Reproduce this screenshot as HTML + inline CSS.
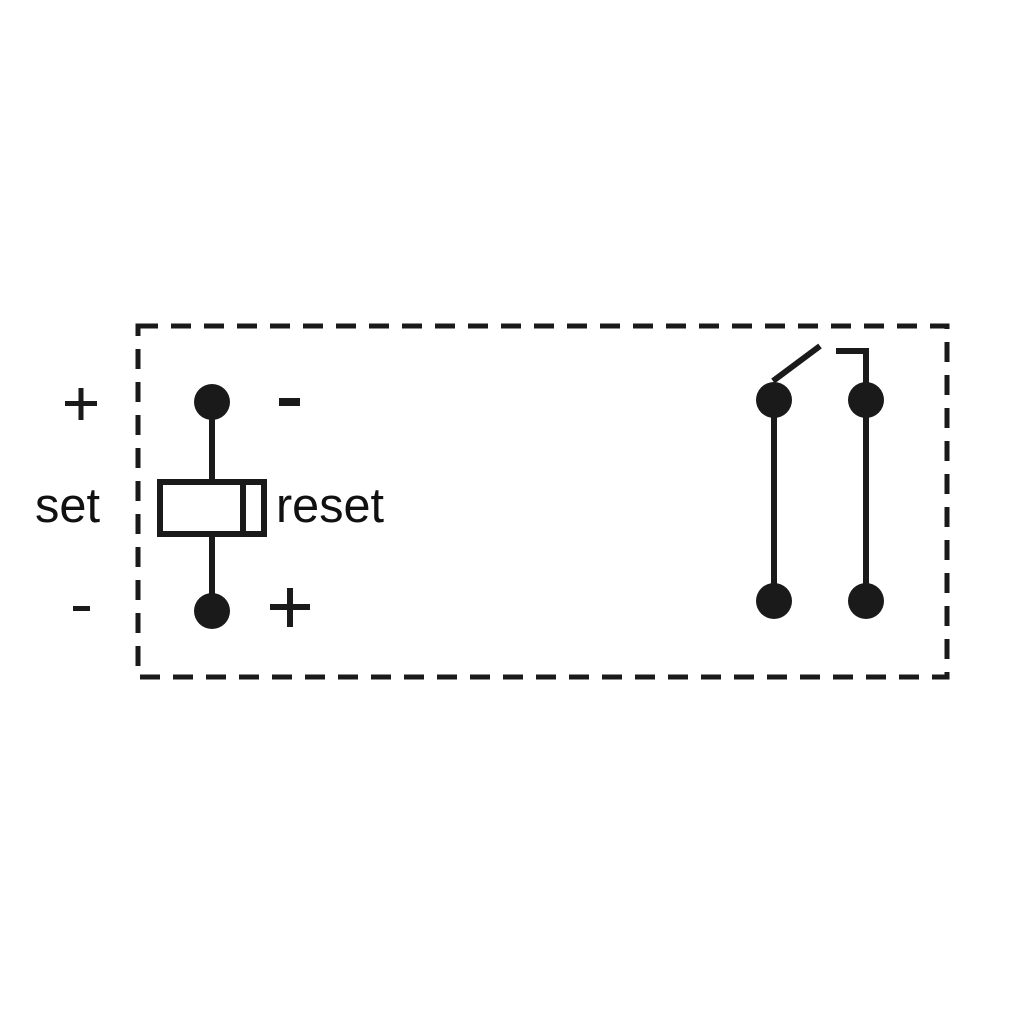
<!DOCTYPE html>
<html><head><meta charset="utf-8"><style>html,body{margin:0;padding:0;background:#fff}</style></head>
<body>
<svg width="1024" height="1024" viewBox="0 0 1024 1024" xmlns="http://www.w3.org/2000/svg">
<rect x="0" y="0" width="1024" height="1024" fill="#fff"/>
<rect x="138" y="326" width="809" height="351" fill="none" stroke="#1a1a1a" stroke-width="5" stroke-dasharray="20 13"/>
<g stroke="#1a1a1a" stroke-width="6" fill="none">
<line x1="212" y1="402" x2="212" y2="482"/>
<line x1="212" y1="534" x2="212" y2="611"/>
<rect x="160" y="482" width="104" height="52"/>
<line x1="243" y1="482" x2="243" y2="534"/>
<line x1="774" y1="400" x2="774" y2="601"/>
<line x1="866" y1="400" x2="866" y2="601"/>
<line x1="773" y1="381" x2="820" y2="346"/>
<polyline points="836,351 866,351 866,400"/>
</g>
<g fill="#1a1a1a">
<circle cx="212" cy="402" r="18"/>
<circle cx="212" cy="611" r="18"/>
<circle cx="774" cy="400" r="18"/>
<circle cx="866" cy="400" r="18"/>
<circle cx="774" cy="601" r="18"/>
<circle cx="866" cy="601" r="18"/>
<rect x="65" y="401" width="32" height="5"/><rect x="78.5" y="388" width="5" height="32"/>
<rect x="73" y="606" width="17" height="5"/>
<rect x="279" y="398" width="21" height="8"/>
<rect x="270" y="604" width="40" height="6"/><rect x="287" y="588" width="6" height="39"/>
</g>
<g font-family="Liberation Sans, sans-serif" font-size="49" fill="#111">
<text x="35" y="522" textLength="65" lengthAdjust="spacingAndGlyphs">set</text>
<text x="276" y="522" textLength="108" lengthAdjust="spacingAndGlyphs">reset</text>
</g>
</svg>
</body></html>
